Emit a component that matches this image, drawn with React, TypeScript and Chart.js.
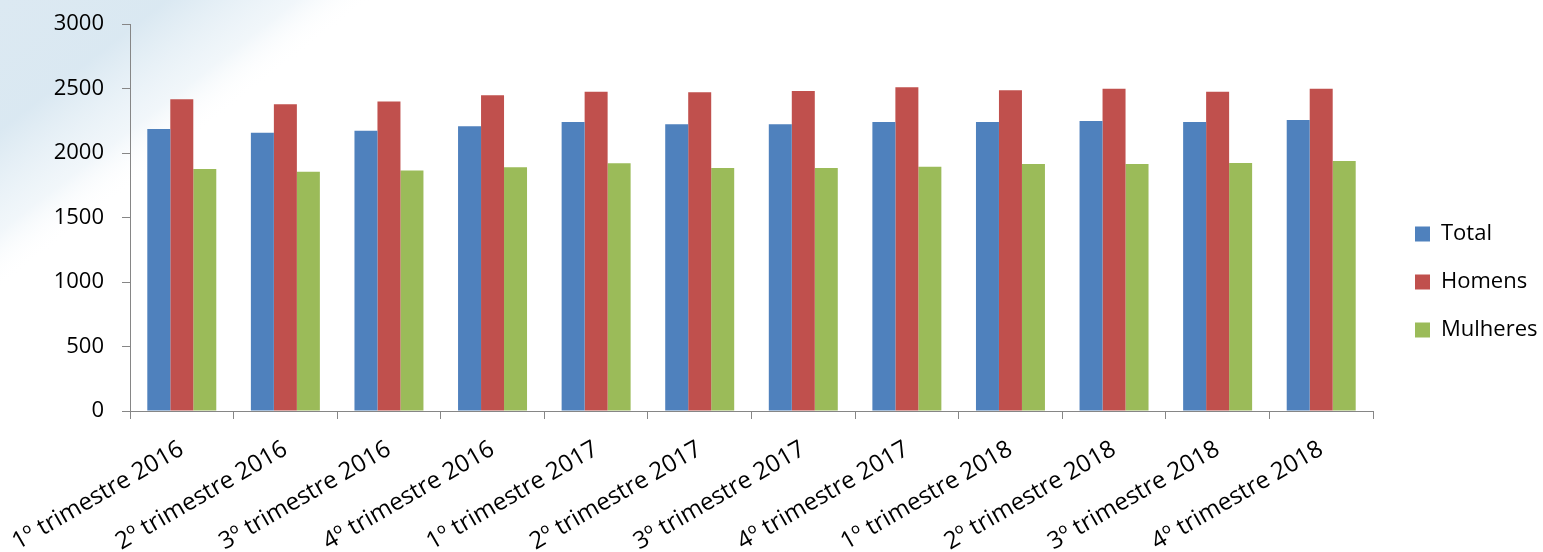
import React, { useEffect, useRef } from 'react';
import { Chart, registerables } from 'chart.js';

Chart.register(...registerables);

const categories = [
  '1º trimestre 2016',
  '2º trimestre 2016',
  '3º trimestre 2016',
  '4º trimestre 2016',
  '1º trimestre 2017',
  '2º trimestre 2017',
  '3º trimestre 2017',
  '4º trimestre 2017',
  '1º trimestre 2018',
  '2º trimestre 2018',
  '3º trimestre 2018',
  '4º trimestre 2018',
];

const total = [2186, 2157, 2173, 2207, 2240, 2222, 2222, 2240, 2240, 2248, 2240, 2256];
const homens = [2416, 2377, 2400, 2447, 2475, 2470, 2481, 2509, 2486, 2499, 2475, 2499];
const mulheres = [1876, 1855, 1865, 1889, 1920, 1884, 1884, 1894, 1915, 1915, 1922, 1938];

const yMin = 0;
const yMax = 3000;
const yStep = 500;

const FONT = 'Open Sans';
const AXIS_COLOR = '#868686';

const PLOT_LEFT = 130;
const PLOT_BOTTOM = 411;
const PLOT_RIGHT = 1373;
const LEGEND_ITEM_X = 1415;
const LEGEND_FIRST_CENTER_Y = 234;

const background = {
  id: 'background',
  beforeDraw(chart: any) {
    const { ctx, width, height } = chart;
    ctx.save();
    ctx.fillStyle = '#ffffff';
    ctx.fillRect(0, 0, width, height);
    const g = ctx.createLinearGradient(0, 0, 140, 180);
    g.addColorStop(0, 'rgba(220,233,242,1)');
    g.addColorStop(0.45, 'rgba(216,231,241,0.95)');
    g.addColorStop(0.8, 'rgba(232,241,247,0.6)');
    g.addColorStop(1, 'rgba(255,255,255,0)');
    ctx.fillStyle = g;
    ctx.fillRect(0, 0, 380, 300);
    ctx.restore();
  },
};

const layoutTweaks = {
  id: 'layoutTweaks',
  beforeLayout(chart: any) {
    const lg = chart.legend;
    if (lg && !lg.__patched) {
      const orig = lg.fit.bind(lg);
      lg.fit = function () {
        orig();
        this.width = chart.width - PLOT_RIGHT;
      };
      lg.__patched = true;
    }
  },
  afterLayout(chart: any) {
    const lg = chart.legend;
    if (!lg) return;
    const p = lg.options.labels.padding;
    const fontSize = 22;
    const w = lg.width;
    lg.left = LEGEND_ITEM_X - p;
    lg.right = lg.left + w;
    const H = lg.height;
    const colH = lg.columnSizes && lg.columnSizes[0] ? lg.columnSizes[0].height : 144;
    const cursorY = LEGEND_FIRST_CENTER_Y - fontSize / 2;
    lg.top = cursorY - (p + H - colH) / 2;
    lg.bottom = lg.top + H;
  },
};

export default function App() {
  const canvasRef = useRef<HTMLCanvasElement | null>(null);

  useEffect(() => {
    const canvas = canvasRef.current;
    if (!canvas) return;
    const chart = new Chart(canvas, {
      type: 'bar',
      data: {
        labels: categories,
        datasets: [
          { label: 'Total', data: total, backgroundColor: '#4F81BD' },
          { label: 'Homens', data: homens, backgroundColor: '#C0504D' },
          { label: 'Mulheres', data: mulheres, backgroundColor: '#9BBB59' },
        ],
      },
      options: {
        responsive: false,
        animation: false,
        layout: { padding: { top: 24, left: 0, right: 0, bottom: 0 } },
        datasets: {
          bar: { categoryPercentage: 0.666, barPercentage: 1.0, borderWidth: 0 },
        },
        plugins: {
          legend: {
            position: 'right',
            labels: {
              boxWidth: 15,
              boxHeight: 15,
              padding: 26,
              color: '#000',
              font: { family: FONT, size: 22 },
            },
          },
          tooltip: { enabled: false },
          title: { display: false },
        },
        scales: {
          x: {
            grid: {
              display: true,
              drawOnChartArea: false,
              drawTicks: true,
              tickLength: 8,
              color: AXIS_COLOR,
              offset: true,
            },
            border: { display: true, color: AXIS_COLOR, width: 1 },
            ticks: {
              color: '#000',
              font: { family: FONT, size: 24 },
              maxRotation: 30,
              minRotation: 30,
              padding: 16,
              autoSkip: false,
            },
            afterFit(scale: any) {
              scale.height = 552 - PLOT_BOTTOM;
              scale.paddingLeft = 0;
              scale.paddingRight = 0;
            },
          },
          y: {
            min: yMin,
            max: yMax,
            grid: {
              display: true,
              drawOnChartArea: false,
              drawTicks: true,
              tickLength: 8,
              color: AXIS_COLOR,
            },
            border: { display: true, color: AXIS_COLOR, width: 1 },
            ticks: {
              stepSize: yStep,
              color: '#000',
              font: { family: FONT, size: 22 },
              padding: 18,
              callback: (v: any) => String(v),
            },
            afterFit(scale: any) {
              scale.width = PLOT_LEFT;
              scale.paddingTop = 0;
              scale.paddingBottom = 0;
            },
          },
        },
      },
      plugins: [background, layoutTweaks],
    } as any);
    return () => chart.destroy();
  }, []);

  return (
    <div style={{ position: 'absolute', left: 0, top: 0, width: 1543, height: 552 }}>
      <canvas ref={canvasRef} width={1543} height={552} style={{ display: 'block' }} />
    </div>
  );
}
